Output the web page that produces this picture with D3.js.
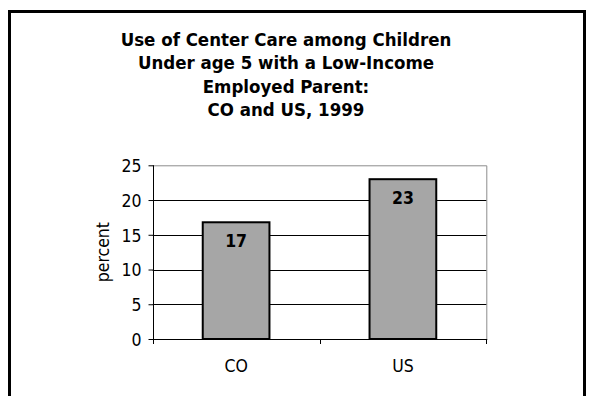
<!DOCTYPE html>
<html>
<head>
<meta charset="utf-8">
<script src="https://cdn.jsdelivr.net/npm/d3@7"></script>
<style>
  body { margin: 0; background: #fff; }
  text { font-family: "DejaVu Sans Condensed", "DejaVu Sans", sans-serif; fill: #000; }
</style>
</head>
<body>
<svg id="chart" width="590" height="396"></svg>
<script>
// data
var categories = ["CO", "US"];
var values = [16.8, 23];
var yTicks = [0, 5, 10, 15, 20, 25];
var titleLines = [
    "Use of Center Care among Children",
    "Under age 5 with a Low-Income",
    "Employed Parent:",
    "CO and US, 1999"
];

var svg = d3.select("#chart");
var plot = {left: 152.7, right: 486.3, top: 165.3, bottom: 339};

// outer frame (runs off the bottom of the picture)
svg.append("rect")
    .attr("x", 9.5).attr("y", 11.5)
    .attr("width", 575).attr("height", 500)
    .attr("fill", "none")
    .attr("stroke", "#000")
    .attr("stroke-width", 3);

// title
svg.append("g").selectAll("text")
    .data(titleLines)
    .enter()
    .append("text")
    .attr("x", 286)
    .attr("y", function(d, i) { return 45.5 + i * 23.6; })
    .attr("text-anchor", "middle")
    .style("font-size", "18.5px")
    .style("font-weight", "bold")
    .text(function(d) { return d; });

var x = d3.scaleBand()
    .domain(categories)
    .range([plot.left, plot.right])
    .paddingInner(0.6)
    .paddingOuter(0.3);

var y = d3.scaleLinear()
    .domain([0, 25])
    .range([plot.bottom, plot.top]);

// plot area border (grey, top and right)
svg.append("path")
    .attr("d", "M" + plot.left + "," + (y(25) + 0.5) + "H" + (plot.right + 0.5) + "V" + plot.bottom)
    .attr("fill", "none")
    .attr("stroke", "#8c8c8c")
    .attr("stroke-width", 1);

// gridlines
svg.append("g").selectAll("line")
    .data(yTicks.filter(function(d) { return d > 0 && d < 25; }))
    .enter()
    .append("line")
    .attr("x1", plot.left).attr("x2", plot.right)
    .attr("y1", function(d) { return Math.round(y(d)) + 0.5; })
    .attr("y2", function(d) { return Math.round(y(d)) + 0.5; })
    .attr("stroke", "#000")
    .attr("stroke-width", 1);

// bars
svg.append("g").selectAll("rect")
    .data(values)
    .enter()
    .append("rect")
    .attr("x", function(d, i) { return x(categories[i]); })
    .attr("y", function(d) { return y(d); })
    .attr("width", x.bandwidth())
    .attr("height", function(d) { return y(0) - y(d); })
    .attr("fill", "#a6a6a6")
    .attr("stroke", "#000")
    .attr("stroke-width", 2);

// value labels
svg.append("g").selectAll("text")
    .data(values)
    .enter()
    .append("text")
    .attr("x", function(d, i) { return x(categories[i]) + x.bandwidth() / 2; })
    .attr("y", function(d) { return y(d) + 25; })
    .attr("text-anchor", "middle")
    .style("font-size", "17.5px")
    .style("font-weight", "bold")
    .text(function(d) { return d3.format(".0f")(d); });

// y axis
var yAxis = svg.append("g")
    .attr("transform", "translate(" + (Math.round(plot.left) + 0.5) + ",0)")
    .call(d3.axisLeft(y).tickValues(yTicks).tickSize(5).tickPadding(7).tickFormat(d3.format("d")));
yAxis.selectAll("path, line").attr("stroke", "#000");
yAxis.select(".domain").attr("d", "M0," + plot.top + "V" + plot.bottom);
yAxis.selectAll("text")
    .style("font-size", "17.5px")
    .style("font-family", "'DejaVu Sans Condensed', 'DejaVu Sans', sans-serif")
    .attr("dy", "0.36em");

// x axis: ticks sit on the category boundaries
var bounds = [plot.left, (plot.left + plot.right) / 2, plot.right];
var xAxis = svg.append("g");
xAxis.append("line")
    .attr("x1", plot.left).attr("x2", plot.right + 1)
    .attr("y1", Math.round(plot.bottom) + 0.5).attr("y2", Math.round(plot.bottom) + 0.5)
    .attr("stroke", "#000");
xAxis.selectAll(".tk")
    .data(bounds)
    .enter()
    .append("line")
    .attr("class", "tk")
    .attr("x1", function(d) { return Math.round(d) + 0.5; })
    .attr("x2", function(d) { return Math.round(d) + 0.5; })
    .attr("y1", plot.bottom).attr("y2", plot.bottom + 5)
    .attr("stroke", "#000");
xAxis.selectAll(".lbl")
    .data(categories)
    .enter()
    .append("text")
    .attr("class", "lbl")
    .attr("x", function(d) { return x(d) + x.bandwidth() / 2; })
    .attr("y", 371.5)
    .attr("text-anchor", "middle")
    .style("font-size", "17.5px")
    .text(function(d) { return d; });

// y axis title
svg.append("text")
    .attr("transform", "translate(109," + ((plot.top + plot.bottom) / 2) + ") rotate(-90)")
    .attr("text-anchor", "middle")
    .style("font-size", "17.5px")
    .text("percent");
</script>
</body>
</html>
